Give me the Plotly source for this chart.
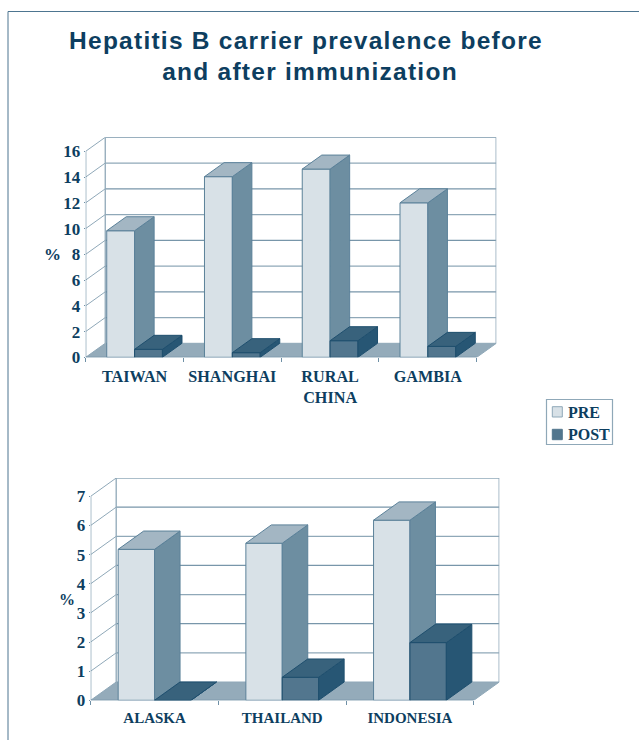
import plotly.graph_objects as go

W, H = 639, 740

# ---- data ----
cats_top = ["TAIWAN", "SHANGHAI", "RURAL<br>CHINA", "GAMBIA"]
pre_top = [9.83, 14.03, 14.62, 12.0]
post_top = [0.62, 0.36, 1.29, 0.85]
yticks_top = [0, 2, 4, 6, 8, 10, 12, 14, 16]

cats_bottom = ["ALASKA", "THAILAND", "INDONESIA"]
pre_bottom = [5.18, 5.39, 6.18]
post_bottom = [0, 0.79, 1.98]
yticks_bottom = [0, 1, 2, 3, 4, 5, 6, 7]

series_names = ["PRE", "POST"]
title_lines = ["Hepatitis B carrier prevalence before", "&nbsp;and after immunization"]

# ---- style ----
INK = "#0d3e60"
WALL = "#6f90a6"
WALL_LIGHT = "#8fa8b8"
FLOOR = "#94abba"
PRE_FRONT, PRE_TOP, PRE_SIDE, PRE_EDGE = "#d8e1e7", "#a3b6c3", "#6d8ea1", "#5b8199"
POST_FRONT, POST_TOP, POST_SIDE, POST_EDGE = "#52768e", "#38627c", "#275674", "#1f4f6e"
BAR_W = 0.285
SERIF = "Liberation Serif"


def px(x):
    return x / W


def py(y):
    return 1 - y / H


fig = go.Figure()
shapes, annotations, axes = [], [], {}


def panel(n, cats, pre, post, yticks, box, depth_px, tick_size, cat_size, pct, standoff):
    left, right, top, bottom = box
    ddx, ddy = depth_px
    ncat = len(cats)
    ymax = yticks[-1]
    cat_w = (right - left - ddx) / ncat
    unit = (bottom - top - ddy) / ymax
    dx, dy = ddx / cat_w, ddy / unit
    x_names = [f"xaxis{n if n > 1 else ''}", f"xaxis{n + 1}"]
    y_names = [f"yaxis{n if n > 1 else ''}", f"yaxis{n + 1}"]
    x_ids = [f"x{n if n > 1 else ''}", f"x{n + 1}"]
    y_ids = [f"y{n if n > 1 else ''}", f"y{n + 1}"]

    axes[x_names[0]] = dict(
        domain=[px(left), px(right)], range=[0, ncat + dx], anchor=y_ids[0],
        tickmode="array", tickvals=[i + 0.5 for i in range(ncat)], ticktext=cats,
        ticks="", showgrid=False, zeroline=False, showline=False, ticklabelstandoff=standoff,
        tickfont=dict(family=SERIF, size=cat_size, color=INK, weight=700),
        minor=dict(tickmode="array", tickvals=list(range(ncat + 1)), ticks="outside",
                   ticklen=4, tickcolor=WALL, tickwidth=1, showgrid=False),
    )
    axes[y_names[0]] = dict(
        domain=[py(bottom), py(top)], range=[0, ymax + dy], anchor=x_ids[0],
        tickmode="array", tickvals=yticks, ticks="outside", ticklen=1, tickcolor=WALL,
        showgrid=False, zeroline=False, showline=False, ticklabelstandoff=0,
        tickfont=dict(family=SERIF, size=tick_size, color=INK, weight=700),
    )
    axes[x_names[1]] = dict(overlaying=x_ids[0], range=[0, ncat + dx], anchor=y_ids[1], visible=False)
    axes[y_names[1]] = dict(overlaying=y_ids[0], range=[0, ymax + dy], anchor=x_ids[1], visible=False)

    def seg(x0, y0, x1, y1, color=WALL, width=1.2):
        shapes.append(dict(type="line", xref=x_ids[0], yref=y_ids[0], x0=x0, y0=y0, x1=x1, y1=y1,
                           line=dict(color=color, width=width), layer="below"))

    # floor
    shapes.append(dict(type="path", xref=x_ids[0], yref=y_ids[0], layer="below",
                       path=f"M0,0 L{dx},{dy} L{ncat + dx},{dy} L{ncat},0 Z",
                       fillcolor=FLOOR, line=dict(color=WALL_LIGHT, width=1)))
    # walls and grid
    for k, v in enumerate(yticks):
        col = WALL_LIGHT if k % 2 else "#7896aa"
        if v > 0:
            seg(dx, v + dy, ncat + dx, v + dy, col, 1.3)
            seg(0, v, dx, v + dy, WALL_LIGHT, 1)
    seg(dx, dy, dx, ymax + dy, WALL_LIGHT, 1.3)
    seg(ncat + dx, dy, ncat + dx, ymax + dy, WALL_LIGHT, 1.5)
    seg(0, 0, 0, ymax)
    seg(0, 0, ncat, 0)

    # bars, painter's order: PRE below, POST above
    specs = [
        (pre, -BAR_W, series_names[0], PRE_FRONT, PRE_TOP, PRE_SIDE, PRE_EDGE, 0),
        (post, 0.0, series_names[1], POST_FRONT, POST_TOP, POST_SIDE, POST_EDGE, 1),
    ]
    for vals, off, name, front, topc, side, edge, layer in specs:
        centers = [i + 0.5 for i in range(ncat)]
        fig.add_trace(go.Bar(x=centers, y=vals, offset=off, width=BAR_W, name=name,
                             marker=dict(color=front, line=dict(color=edge, width=1)),
                             showlegend=False, hoverinfo="skip",
                             xaxis=x_ids[layer], yaxis=y_ids[layer]))
        sx, sy, tx, ty = [], [], [], []
        for c, v in zip(centers, vals):
            a, b = c + off, c + off + BAR_W
            sx += [b, b + dx, b + dx, b, b, None]
            sy += [0, dy, v + dy, v, 0, None]
            tx += [a, a + dx, b + dx, b, a, None]
            ty += [v, v + dy, v + dy, v, v, None]
        for xs, ys, col in ((sx, sy, side), (tx, ty, topc)):
            fig.add_trace(go.Scatter(x=xs, y=ys, mode="lines", fill="toself", fillcolor=col,
                                     line=dict(color=edge, width=1), showlegend=False,
                                     hoverinfo="skip", xaxis=x_ids[layer], yaxis=y_ids[layer]))

    annotations.append(dict(text="%", xref="paper", yref="paper", x=px(pct[0]), y=py(pct[1]),
                            showarrow=False, xanchor="center", yanchor="middle",
                            font=dict(family=SERIF, size=pct[2], color=INK, weight=700)))


panel(1, cats_top, pre_top, post_top, yticks_top,
      (85.7, 496.3, 137.3, 357.3), (19.55, 14.0), 17, 16.2, (52, 255, 17), 7)
panel(3, cats_bottom, pre_bottom, post_bottom, yticks_bottom,
      (90.7, 499.3, 478.0, 700.3), (25.5, 18.3), 17, 15.0, (67, 599, 16), 7)

# page frame
shapes.append(dict(type="line", xref="paper", yref="paper", x0=px(8), x1=1, y0=py(11.5), y1=py(11.5),
                   line=dict(color="#4d7590", width=1)))
shapes.append(dict(type="line", xref="paper", yref="paper", x0=px(8), x1=px(8), y0=py(11.5), y1=0,
                   line=dict(color="#4d7590", width=1)))

# key
shapes.append(dict(type="rect", xref="paper", yref="paper", x0=px(546.5), x1=px(612.5),
                   y0=py(444.5), y1=py(399.5), line=dict(color=WALL_LIGHT, width=1.2)))
for (y0, y1, col, edge, txt_y, name) in (
    (406.7, 417.0, PRE_FRONT, WALL_LIGHT, 412.0, series_names[0]),
    (429.3, 439.7, POST_FRONT, POST_FRONT, 434.5, series_names[1]),
):
    shapes.append(dict(type="rect", xref="paper", yref="paper", x0=px(552.3), x1=px(562.3),
                       y0=py(y1), y1=py(y0), fillcolor=col, line=dict(color=edge, width=1)))
    annotations.append(dict(text=name, xref="paper", yref="paper", x=px(566), y=py(txt_y),
                            showarrow=False, xanchor="left", yanchor="middle",
                            font=dict(family=SERIF, size=16, color=INK, weight=700)))

title_text = '<span style="letter-spacing:1.25px">' + "<br>".join(title_lines) + "</span>"

fig.update_layout(
    width=W, height=H, autosize=False, margin=dict(l=0, r=0, t=0, b=0, autoexpand=False),
    paper_bgcolor="white", plot_bgcolor="rgba(0,0,0,0)",
    barmode="overlay", showlegend=False,
    title=dict(text=title_text, x=px(306), y=py(48.5), xanchor="center", yanchor="top",
               font=dict(family="Liberation Sans", size=24.5, color=INK, weight=700)),
    shapes=shapes, annotations=annotations, **axes,
)
fig.write_html("out.html", config=dict(displayModeBar=False),
               post_script="document.body.style.margin='0';document.documentElement.style.overflow='hidden';")
